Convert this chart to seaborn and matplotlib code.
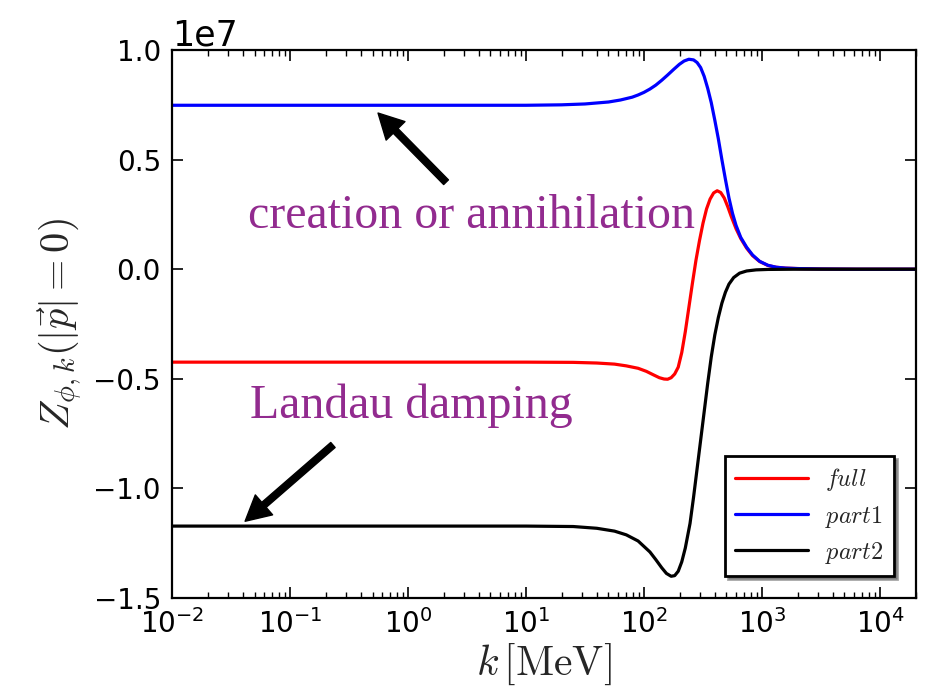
import numpy as np
import pandas as pd
import matplotlib
matplotlib.use("Agg")
import matplotlib.pyplot as plt
import seaborn as sns

# log10(k / MeV) sample positions and Z values in units of 1e7
SCALE = 1e7

logk_part1 = [-2.0, 0.0, 1.0, 1.3, 1.5, 1.7, 1.8, 1.9, 1.95, 2.0, 2.05, 2.1, 2.15, 2.2,
              2.25, 2.3, 2.34, 2.38, 2.42, 2.45, 2.48, 2.51, 2.54, 2.57, 2.6, 2.63,
              2.66, 2.69, 2.72, 2.75, 2.78, 2.82, 2.87, 2.92, 2.98, 3.05, 3.12, 3.2,
              3.3, 3.5, 3.8, 4.31]
z_part1 = [0.748, 0.748, 0.748, 0.750, 0.754, 0.763, 0.772, 0.785, 0.795, 0.807, 0.822,
           0.840, 0.862, 0.886, 0.911, 0.935, 0.950, 0.958, 0.955, 0.943, 0.920, 0.880,
           0.825, 0.760, 0.680, 0.595, 0.500, 0.410, 0.325, 0.255, 0.200, 0.145,
           0.100, 0.065, 0.036, 0.018, 0.009, 0.005, 0.003, 0.001, 0.0, 0.0]

logk_part2 = [-2.0, 1.0, 1.4, 1.6, 1.75, 1.85, 1.95, 2.05, 2.1, 2.15, 2.19, 2.23, 2.26,
              2.29, 2.32, 2.35, 2.39, 2.42, 2.45, 2.48, 2.51, 2.54, 2.57, 2.6, 2.63,
              2.66, 2.69, 2.72, 2.76, 2.81, 2.87, 2.95, 3.05, 3.3, 4.31]
z_part2 = [-1.172, -1.172, -1.174, -1.182, -1.195, -1.212, -1.240, -1.290, -1.325,
           -1.362, -1.388, -1.401, -1.398, -1.378, -1.335, -1.272, -1.160, -1.040,
           -0.910, -0.780, -0.650, -0.520, -0.400, -0.300, -0.220, -0.155, -0.105,
           -0.068, -0.038, -0.018, -0.008, -0.003, -0.001, 0.0, 0.0]

logk_full = [-2.0, 1.0, 1.4, 1.6, 1.75, 1.85, 1.95, 2.02, 2.08, 2.13, 2.17, 2.2, 2.23,
             2.26, 2.29, 2.32, 2.35, 2.38, 2.41, 2.44, 2.47, 2.5, 2.53, 2.56, 2.59,
             2.62, 2.65, 2.68, 2.71, 2.74, 2.78, 2.82, 2.87, 2.92, 2.98, 3.05, 3.12,
             3.2, 3.3, 3.5, 3.8, 4.31]
z_full = [-0.424, -0.424, -0.425, -0.428, -0.433, -0.441, -0.452, -0.466, -0.482,
          -0.495, -0.501, -0.502, -0.495, -0.478, -0.447, -0.380, -0.285, -0.175,
          -0.065, 0.040, 0.130, 0.210, 0.275, 0.320, 0.348, 0.358, 0.350, 0.325,
          0.285, 0.240, 0.185, 0.140, 0.096, 0.062, 0.035, 0.017, 0.009, 0.005,
          0.003, 0.001, 0.0, 0.0]

series_labels = [r"$full$", r"$part1$", r"$part2$"]
series_colors = ["red", "blue", "black"]

frames = []
for lab, lk, z in zip(series_labels,
                      [logk_full, logk_part1, logk_part2],
                      [z_full, z_part1, z_part2]):
    frames.append(pd.DataFrame({"k": 10.0 ** np.asarray(lk),
                                "Z": np.asarray(z) * SCALE,
                                "series": lab}))
df = pd.concat(frames, ignore_index=True)

sns.set_style("ticks")
plt.rcParams["font.family"] = ["DejaVu Sans"]
plt.rcParams["mathtext.fontset"] = "cm"
plt.rcParams["axes.linewidth"] = 1.6

fig = plt.figure(figsize=(9.33, 6.95), dpi=100)
ax = fig.add_axes([0.1844, 0.1396, 0.7974, 0.7884])

sns.lineplot(data=df, x="k", y="Z", hue="series", hue_order=series_labels,
             palette=series_colors, estimator=None, sort=False, linewidth=2.3,
             ax=ax)

ax.set_xscale("log")
ax.set_xlim(1e-2, 2.02e4)
ax.set_ylim(-1.5e7, 1.0e7)
ax.set_yticks(np.arange(-1.5, 1.01, 0.5) * SCALE)

for s in ax.spines.values():
    s.set_visible(True)
    s.set_color("black")
    s.set_linewidth(1.6)

ax.tick_params(which="both", direction="in", top=True, right=True,
               colors="black", labelsize=20)
ax.tick_params(which="major", length=8, width=1.2, pad=8)
ax.tick_params(which="minor", length=4.3, width=1.0)
ax.yaxis.get_offset_text().set_fontsize(25)

ax.set_xlabel(r"$k\,[\mathrm{MeV}]$", fontsize=30, labelpad=2)
ax.set_ylabel(r"$Z_{\phi,k}(|\vec{p}|=0)$", fontsize=29, labelpad=6)

purple = "#922B8F"
ax.text(0.0441, 0.188 * SCALE, "creation or annihilation", color=purple,
        fontsize=34.5, family="Liberation Serif", ha="left", va="baseline")
ax.text(0.0458, -0.679 * SCALE, "Landau damping", color=purple,
        fontsize=34.5, family="Liberation Serif", ha="left", va="baseline")

arrow_style = dict(facecolor="black", edgecolor="black", width=4.8,
                   headwidth=19, headlength=18, shrink=0.0)
ax.annotate("", xy=(0.557, 0.7126 * SCALE), xytext=(2.10, 0.397 * SCALE),
            arrowprops=arrow_style)
ax.annotate("", xy=(0.0416, -1.150 * SCALE), xytext=(0.231, -0.802 * SCALE),
            arrowprops=arrow_style)

leg = ax.legend(loc="lower right", fontsize=17.5, shadow=True, fancybox=False,
                frameon=True, framealpha=1.0, edgecolor="black",
                handlelength=3.0, handletextpad=0.7, borderaxespad=0.9,
                borderpad=0.42, labelspacing=0.42)
leg.get_frame().set_linewidth(2.0)
for line in leg.get_lines():
    line.set_linewidth(2.3)

fig.savefig("out.png", dpi=100)
